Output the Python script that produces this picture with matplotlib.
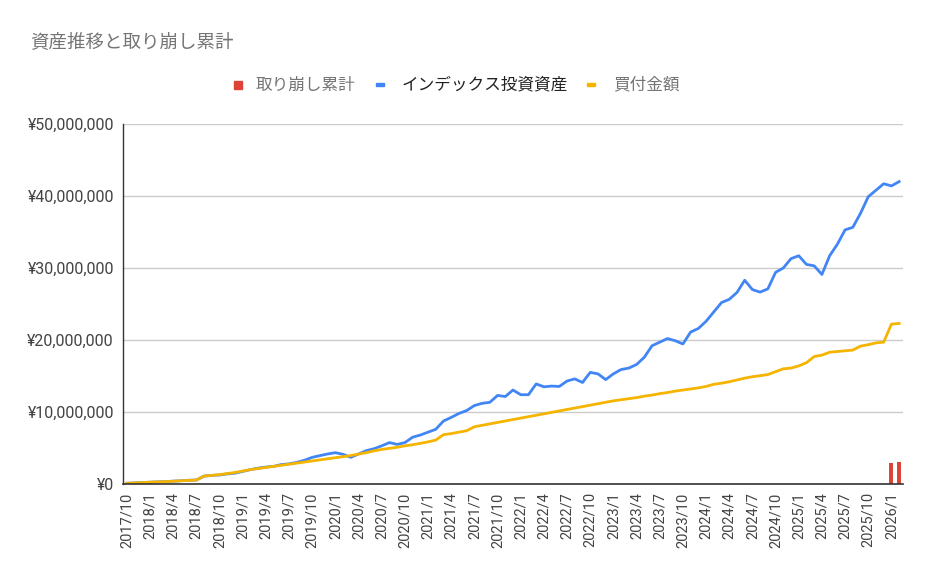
import matplotlib
matplotlib.use("Agg")
import matplotlib.pyplot as plt
from matplotlib.patches import Rectangle
from matplotlib.ticker import FuncFormatter, MultipleLocator
import numpy as np

plt.rcParams['font.family'] = ['Roboto', 'Noto Sans CJK JP', 'DejaVu Sans']

# ---- data ----
start_year, start_month = 2017, 10
n_months = 101
months = []
y, m = start_year, start_month
for _ in range(n_months):
    months.append(f"{y}/{m}")
    m += 1
    if m > 12:
        m = 1
        y += 1

# 買付金額 (millions of yen)
purchase = [0.10, 0.15, 0.20, 0.25, 0.30, 0.33, 0.38, 0.45, 0.50, 0.55,
            1.10, 1.20, 1.30, 1.45, 1.60, 1.80, 2.00, 2.15, 2.30, 2.45,
            2.60, 2.75, 2.90, 3.05, 3.20, 3.35, 3.50, 3.65, 3.80, 3.95,
            4.15, 4.35, 4.60, 4.80, 4.95, 5.10, 5.30, 5.45, 5.65, 5.85,
            6.10, 6.85, 7.00, 7.20, 7.40, 7.95, 8.15, 8.35, 8.55, 8.75,
            8.95, 9.15, 9.35, 9.55, 9.75, 9.95, 10.15, 10.35, 10.55, 10.75,
            10.95, 11.15, 11.35, 11.55, 11.70, 11.85, 12.00, 12.20, 12.35, 12.55,
            12.70, 12.90, 13.05, 13.20, 13.35, 13.55, 13.85, 14.00, 14.20, 14.45,
            14.70, 14.90, 15.04, 15.20, 15.60, 16.00, 16.10, 16.40, 16.85, 17.70,
            17.90, 18.30, 18.40, 18.50, 18.60, 19.15, 19.35, 19.60, 19.70, 22.20,
            22.30]

# インデックス投資資産 (millions of yen)
assets = [0.10, 0.15, 0.20, 0.25, 0.30, 0.33, 0.40, 0.45, 0.52, 0.55,
          1.10, 1.20, 1.25, 1.40, 1.50, 1.75, 2.00, 2.20, 2.35, 2.45,
          2.70, 2.80, 3.00, 3.30, 3.70, 3.94, 4.17, 4.35, 4.12, 3.70,
          4.17, 4.63, 4.90, 5.30, 5.75, 5.50, 5.75, 6.50, 6.80, 7.20,
          7.60, 8.75, 9.25, 9.80, 10.20, 10.90, 11.20, 11.35, 12.30, 12.15,
          13.05, 12.40, 12.40, 13.90, 13.50, 13.60, 13.55, 14.30, 14.60, 14.10,
          15.50, 15.30, 14.50, 15.30, 15.90, 16.10, 16.60, 17.60, 19.20, 19.70,
          20.20, 19.90, 19.45, 21.10, 21.60, 22.60, 23.90, 25.20, 25.65, 26.60,
          28.30, 27.00, 26.65, 27.10, 29.40, 30.00, 31.30, 31.70, 30.50, 30.30,
          29.10, 31.70, 33.30, 35.30, 35.65, 37.60, 39.90, 40.80, 41.70, 41.40,
          42.00]

# 取り崩し累計 (millions of yen)
withdrawal = [0.0] * 99 + [2.95, 3.00]

series_names = ["取り崩し累計", "インデックス投資資産", "買付金額"]
colors = ["#db4437", "#4285f4", "#f4b400"]

# ---- figure ----
W, H = 931, 574
fig = plt.figure(figsize=(W / 100, H / 100), dpi=100)
ax = fig.add_axes([123 / W, 1 - 484 / H, 780 / W, 360 / H])

x = np.arange(n_months)
scale = 1e6
wd = np.array(withdrawal) * scale
mask = wd > 0
ax.bar(x[mask], wd[mask], width=0.5, color=colors[0], zorder=3)
ax.plot(x, np.array(assets) * scale, color=colors[1], lw=2, zorder=4,
        solid_joinstyle='round')
ax.plot(x, np.array(purchase) * scale, color=colors[2], lw=2, zorder=5,
        solid_joinstyle='round')

ax.set_xlim(-0.5, n_months - 0.5)
ax.set_ylim(0, 50e6)
ax.yaxis.set_major_locator(MultipleLocator(10e6))
ax.yaxis.set_major_formatter(FuncFormatter(lambda v, p: "¥{:,.0f}".format(v)))
ax.grid(axis='y', color='#cccccc', lw=1, zorder=0)
ax.set_axisbelow(True)

tick_idx = list(range(0, n_months, 3))
ax.set_xticks(tick_idx)
ax.set_xticklabels([months[i] for i in tick_idx], rotation=90,
                   fontsize=10.5, color='#444444', family=['Roboto', 'DejaVu Sans'])
ax.tick_params(axis='x', length=0, pad=6)
ax.tick_params(axis='y', length=0, pad=6.5, labelsize=11.5, labelcolor='#444444')

for s in ['top', 'right']:
    ax.spines[s].set_visible(False)
ax.spines['left'].set_color('#333333')
ax.spines['bottom'].set_color('#333333')
ax.spines['left'].set_linewidth(1)
ax.spines['bottom'].set_linewidth(1.2)
ax.spines['bottom'].set_zorder(6)

# ---- title ----
fig.text(30 / W, 1 - 42 / H, "資産推移と取り崩し累計", fontsize=13.3, color='#757575',
         ha='left', va='center', family=['Noto Sans CJK JP', 'DejaVu Sans'])

# ---- legend ----
ly = 1 - 85 / H
fig.add_artist(Rectangle((234 / W, 1 - 89 / H), 8 / W, 8 / H,
                         transform=fig.transFigure, color=colors[0]))
fig.text(256 / W, ly, series_names[0], fontsize=12, color='#757575',
         ha='left', va='center', family=['Noto Sans CJK JP'])
fig.add_artist(Rectangle((376 / W, 1 - 86 / H), 8 / W, 3 / H,
                         transform=fig.transFigure, color=colors[1]))
fig.text(402 / W, ly, series_names[1], fontsize=12, color='#222222',
         ha='left', va='center', family=['Noto Sans CJK JP'])
fig.add_artist(Rectangle((587 / W, 1 - 86 / H), 8 / W, 3 / H,
                         transform=fig.transFigure, color=colors[2]))
fig.text(613 / W, ly, series_names[2], fontsize=12, color='#757575',
         ha='left', va='center', family=['Noto Sans CJK JP'])

fig.savefig("out.png", dpi=100, facecolor='white')
